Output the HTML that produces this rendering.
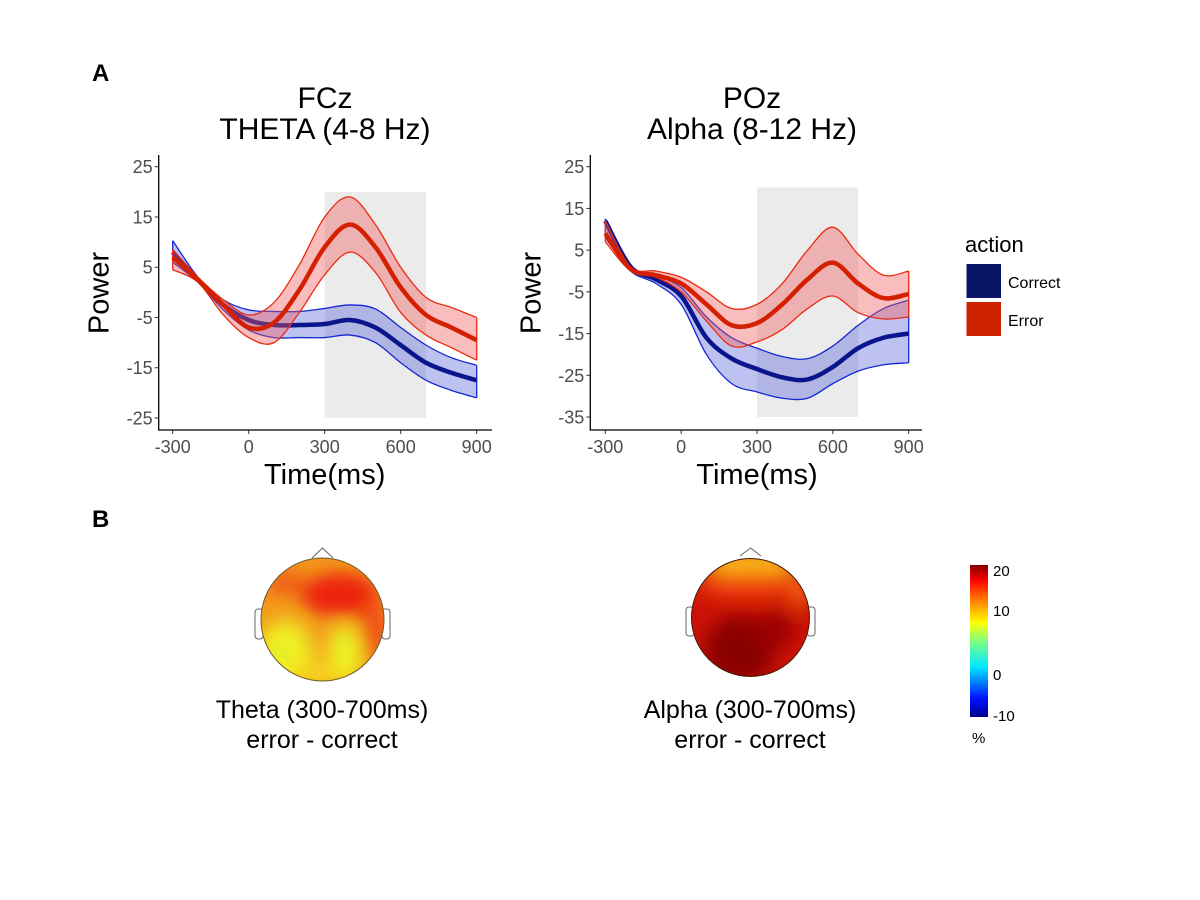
<!DOCTYPE html>
<html><head><meta charset="utf-8"><style>
html,body{margin:0;padding:0;background:#fff;}
svg{display:block;font-family:"Liberation Sans",sans-serif;}
</style></head><body>
<svg id="fig" width="1200" height="900" viewBox="0 0 1200 900">
<defs>
<clipPath id="clipL"><circle cx="322.5" cy="619.5" r="61.5"/></clipPath>
<clipPath id="clipR"><circle cx="750.5" cy="617.5" r="59"/></clipPath>
<filter id="blur"><feGaussianBlur stdDeviation="9"/></filter>
<linearGradient id="jet" x1="0" y1="1" x2="0" y2="0">
<stop offset="0" stop-color="#00008f"/><stop offset="0.12" stop-color="#0010ff"/>
<stop offset="0.33" stop-color="#00e8ff"/><stop offset="0.5" stop-color="#80ff80"/>
<stop offset="0.62" stop-color="#ffff00"/><stop offset="0.8" stop-color="#ff6000"/>
<stop offset="0.9" stop-color="#ff0000"/><stop offset="1" stop-color="#800000"/>
</linearGradient>
</defs>
<text x="92" y="81" font-size="24" font-weight="bold">A</text>
<text x="92" y="527" font-size="24" font-weight="bold">B</text>
<g id="chartL"></g>
<g id="chartR"></g>
<g>
<text x="965" y="252" font-size="22">action</text>
<rect x="966.5" y="264" width="34.5" height="34" fill="#0a1466"/>
<text x="1008" y="288" font-size="16">Correct</text>
<rect x="966.5" y="302" width="34.5" height="34" fill="#cc2200"/>
<text x="1008" y="326" font-size="16">Error</text>
</g>
<g>
<polyline points="312,558 322.5,548 333,558" fill="none" stroke="#666" stroke-width="1"/>
<rect x="255" y="609" width="8" height="30" rx="3" fill="#fff" stroke="#666"/>
<rect x="382" y="609" width="8" height="30" rx="3" fill="#fff" stroke="#666"/>
<g clip-path="url(#clipL)">
<rect x="255" y="552" width="135" height="135" fill="#f39a1c"/>
<g filter="url(#blur)">
<ellipse cx="340" cy="595" rx="40" ry="22" fill="#ec2410"/>
<ellipse cx="285" cy="583" rx="20" ry="12" fill="#ee5a12"/>
<ellipse cx="375" cy="630" rx="14" ry="35" fill="#f05014"/>
<ellipse cx="285" cy="655" rx="28" ry="35" fill="#eef020"/>
<ellipse cx="345" cy="655" rx="18" ry="30" fill="#eef020"/>
<ellipse cx="315" cy="675" rx="25" ry="12" fill="#f7d21c"/>
</g>
<circle cx="280" cy="650" r="7" fill="#c8ee40" opacity="0.6" filter="url(#blur)"/>
<circle cx="342" cy="642" r="7" fill="#c8ee40" opacity="0.6" filter="url(#blur)"/>
</g>
<circle cx="322.5" cy="619.5" r="61.5" fill="none" stroke="#6b5a2a" stroke-width="1"/>
<text x="322" y="718" font-size="25" text-anchor="middle">Theta (300-700ms)</text>
<text x="322" y="748" font-size="25" text-anchor="middle">error - correct</text>
</g>
<g>
<polyline points="740,556 750.5,548 761,556" fill="none" stroke="#666" stroke-width="1"/>
<rect x="686" y="607" width="8" height="29" rx="3" fill="#fff" stroke="#666"/>
<rect x="807" y="607" width="8" height="29" rx="3" fill="#fff" stroke="#666"/>
<g clip-path="url(#clipR)">
<rect x="688" y="555" width="125" height="125" fill="#cc1206"/>
<g filter="url(#blur)">
<ellipse cx="750" cy="562" rx="50" ry="14" fill="#f8b818"/>
<ellipse cx="750" cy="585" rx="55" ry="12" fill="#f24a10"/>
<ellipse cx="740" cy="650" rx="35" ry="35" fill="#8a0000"/>
<ellipse cx="775" cy="630" rx="20" ry="18" fill="#9a0500"/>
<ellipse cx="800" cy="590" rx="10" ry="20" fill="#f06010"/>
</g>
</g>
<circle cx="750.5" cy="617.5" r="59" fill="none" stroke="#4a1a0a" stroke-width="1"/>
<text x="750" y="718" font-size="25" text-anchor="middle">Alpha (300-700ms)</text>
<text x="750" y="748" font-size="25" text-anchor="middle">error - correct</text>
</g>
<g>
<rect x="970" y="565" width="18" height="152" fill="url(#jet)"/>
<text x="993" y="576" font-size="15">20</text>
<text x="993" y="616" font-size="15">10</text>
<text x="993" y="680" font-size="15">0</text>
<text x="993" y="721" font-size="15">-10</text>
<text x="972" y="743" font-size="15">%</text>
</g>
</svg>
<script>
const times = [-300,-200,-100,0,100,200,300,400,500,600,700,800,900];
const xTicks = [-300,0,300,600,900];
const yTicksL = [25,15,5,-5,-15,-25];
const yTicksR = [25,15,5,-5,-15,-25,-35];
const windowL = [300,700,20,-25];
const windowR = [300,700,20,-35];
const thetaCorrectMean = [8,2.5,-2.5,-5.5,-6.5,-6.5,-6.3,-5.5,-7,-10.5,-14,-16,-17.5];
const thetaCorrectUpper = [10.3,3,-1.5,-3.5,-3.8,-3.8,-3.2,-2.5,-3.3,-7,-10.5,-13,-14.5];
const thetaCorrectLower = [6,2,-3.5,-7.5,-9,-9,-9,-8.5,-10,-14,-17.5,-19.5,-21];
const thetaErrorMean = [7,2.5,-2.5,-7,-6,0.5,9,13.5,9,1,-4.5,-7,-9.5];
const thetaErrorUpper = [8.5,3,-1.5,-4.5,-2,5.5,15,19,13.5,5,-1,-3,-5];
const thetaErrorLower = [4.5,2,-4.5,-9,-10,-4,3.5,8,4,-4,-8.5,-11,-13.5];
const alphaCorrectMean = [12,1,-2,-6,-16,-21,-23.5,-25.5,-26,-23,-18.5,-16,-15];
const alphaCorrectUpper = [12.5,1,-1,-4,-11,-16,-18.5,-20.5,-21,-18,-13,-9,-7];
const alphaCorrectLower = [8,0,-3,-8,-20,-27,-29,-30.5,-30.5,-27,-24,-22.5,-22];
const alphaErrorMean = [9,0.5,-1,-3,-8,-13,-12.5,-8,-2,2,-3,-6.5,-5.5];
const alphaErrorUpper = [12,1,0,-1.5,-5,-9,-8,-3,5,10.5,4,-1,0];
const alphaErrorLower = [7,0,-1.5,-5,-12,-18,-17,-14,-9,-6,-10,-11.5,-11];

const NS='http://www.w3.org/2000/svg';
function mk(tag,attrs,parent){const e=document.createElementNS(NS,tag);for(const k in attrs)e.setAttribute(k,attrs[k]);parent.appendChild(e);return e;}
function smooth(pts){let d='M'+pts[0][0]+','+pts[0][1];
 for(let i=0;i<pts.length-1;i++){const p0=pts[Math.max(0,i-1)],p1=pts[i],p2=pts[i+1],p3=pts[Math.min(pts.length-1,i+2)];
 const c1=[p1[0]+(p2[0]-p0[0])/6,p1[1]+(p2[1]-p0[1])/6],c2=[p2[0]-(p3[0]-p1[0])/6,p2[1]-(p3[1]-p1[1])/6];
 d+=' C'+c1[0]+','+c1[1]+' '+c2[0]+','+c2[1]+' '+p2[0]+','+p2[1];}return d;}
function drawChart(gid,cfg){
 const g=document.getElementById(gid);
 const X=t=>cfg.x0+(t-(-300))*(cfg.x1-cfg.x0)/1200;
 const Y=v=>cfg.yTop+(cfg.vTop-v)*(cfg.yBot-cfg.yTop)/(cfg.vTop-cfg.vBot);
 const w=cfg.win;
 const r=mk('rect',{x:X(w[0]),y:Y(w[2]),width:X(w[1])-X(w[0]),height:Y(w[3])-Y(w[2]),fill:'#ebebeb'},g);
 
 
 function series(name,mean,up,lo,fill,stroke,meanColor){
  const u=times.map((t,i)=>[X(t),Y(up[i])]),l=times.map((t,i)=>[X(t),Y(lo[i])]).reverse();
  const du=smooth(u),dl=smooth(l);
  const b=mk('path',{d:du+' L'+l[0][0]+','+l[0][1]+dl.replace(/^M[^ ]+/,'')+' Z',fill:fill,stroke:'none'},g);
  
  
  const s1=mk('path',{d:du,fill:'none',stroke:stroke,'stroke-width':1.3},g);
  
  
  const s2=mk('path',{d:dl,fill:'none',stroke:stroke,'stroke-width':1.3},g);
  
  
  const e1=mk('line',{x1:u[0][0],y1:u[0][1],x2:l[l.length-1][0],y2:l[l.length-1][1],stroke:stroke,'stroke-width':1.3},g);
  
  
  const e2=mk('line',{x1:u[u.length-1][0],y1:u[u.length-1][1],x2:l[0][0],y2:l[0][1],stroke:stroke,'stroke-width':1.3},g);
  
  
  const m=mk('path',{d:smooth(times.map((t,i)=>[X(t),Y(mean[i])])),fill:'none',stroke:meanColor,'stroke-width':4.5},g);
  
  
 }
 series('correct',cfg.cm,cfg.cu,cfg.cl,'rgba(70,80,215,0.35)','#1428d2','#0a148c');
 series('error',cfg.em,cfg.eu,cfg.el,'rgba(240,90,90,0.4)','#ec2a10','#d42000');
 const ax=mk('path',{d:'M'+cfg.ax+',155 L'+cfg.ax+',430 L'+cfg.axEnd+',430',fill:'none',stroke:'#000','stroke-width':1.3},g);
 
 
 cfg.yt.forEach(v=>{
  const t=mk('line',{x1:cfg.ax-4,x2:cfg.ax,y1:Y(v),y2:Y(v),stroke:'#333'},g);
  
  
  const lb=mk('text',{x:cfg.ax-6,y:Y(v)+6.5,'font-size':18,fill:'#4d4d4d','text-anchor':'end'},g);
  lb.textContent=String(v);
  
  
 });
 xTicks.forEach(v=>{
  const t=mk('line',{x1:X(v),x2:X(v),y1:430,y2:434,stroke:'#333'},g);
  
  
  const lb=mk('text',{x:X(v),y:453,'font-size':18,fill:'#4d4d4d','text-anchor':'middle'},g);
  lb.textContent=String(v);
  
  
 });
 const xt=mk('text',{x:(X(-300)+X(900))/2,y:484,'font-size':29,'text-anchor':'middle'},g);
 xt.textContent='Time(ms)';
 
 
 const yt=mk('text',{x:0,y:0,'font-size':29,'text-anchor':'middle',transform:'translate('+(cfg.ax-50)+',293) rotate(-90)'},g);
 yt.textContent='Power';
 
 
 const t1=mk('text',{x:cfg.tc,y:108,'font-size':30,'text-anchor':'middle'},g);
 t1.textContent=cfg.t1;
 
 
 const t2=mk('text',{x:cfg.tc,y:139,'font-size':30,'text-anchor':'middle'},g);
 t2.textContent=cfg.t2;
 
 
}
drawChart('chartL',{x0:172.7,x1:476.7,yTop:166.7,yBot:418,vTop:25,vBot:-25,ax:158.7,axEnd:492,yt:yTicksL,win:windowL,
 cm:thetaCorrectMean,cu:thetaCorrectUpper,cl:thetaCorrectLower,em:thetaErrorMean,eu:thetaErrorUpper,el:thetaErrorLower,tc:325,t1:'FCz',t2:'THETA (4-8 Hz)'});
drawChart('chartR',{x0:605.3,x1:908.7,yTop:166.7,yBot:417,vTop:25,vBot:-35,ax:590.3,axEnd:922,yt:yTicksR,win:windowR,
 cm:alphaCorrectMean,cu:alphaCorrectUpper,cl:alphaCorrectLower,em:alphaErrorMean,eu:alphaErrorUpper,el:alphaErrorLower,tc:752,t1:'POz',t2:'Alpha (8-12 Hz)'});
</script>
</body></html>
